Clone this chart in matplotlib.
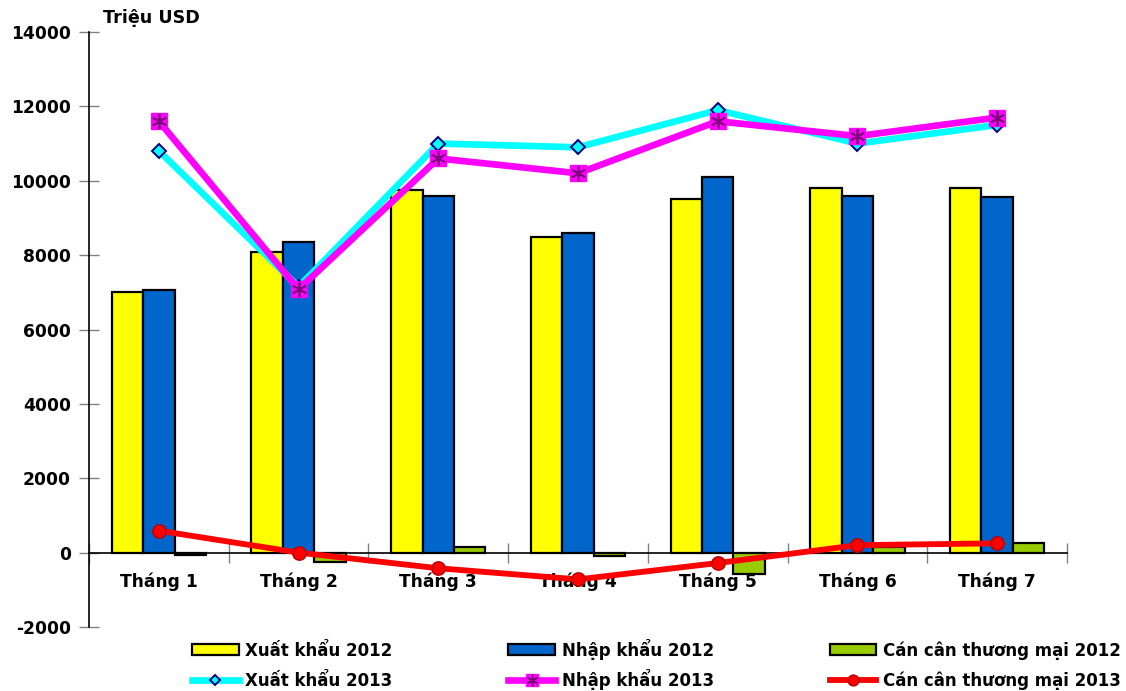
import matplotlib.pyplot as plt
import numpy as np
from matplotlib.legend_handler import HandlerTuple
from matplotlib.ticker import FixedLocator, NullFormatter

plt.rcParams['font.family'] = ['DejaVu Sans']
plt.rcParams['font.weight'] = 'bold'

# Dữ liệu (triệu USD)
thang = ['Tháng 1', 'Tháng 2', 'Tháng 3', 'Tháng 4', 'Tháng 5', 'Tháng 6', 'Tháng 7']
xuat_khau_2012 = [7000, 8080, 9750, 8500, 9500, 9800, 9800]
nhap_khau_2012 = [7070, 8350, 9600, 8600, 10100, 9600, 9560]
can_can_2012 = [-60, -250, 150, -80, -570, 140, 260]
xuat_khau_2013 = [10800, 7150, 11000, 10900, 11900, 11000, 11500]
nhap_khau_2013 = [11600, 7080, 10600, 10200, 11600, 11200, 11700]
can_can_2013 = [590, 0, -420, -720, -280, 200, 250]
yticks = [-2000, 0, 2000, 4000, 6000, 8000, 10000, 12000, 14000]

fig = plt.figure(figsize=(11.26, 6.91), dpi=100)
ax = fig.add_axes([89/1126, 1 - 627/691, (1067-89)/1126, (627-32)/691])

x = np.arange(len(thang))
w = 0.225
b1 = ax.bar(x - w, xuat_khau_2012, w, color='#FFFF00', edgecolor='black', linewidth=1.6, zorder=1.6)
b2 = ax.bar(x, nhap_khau_2012, w, color='#0066CC', edgecolor='black', linewidth=1.6, zorder=1.6)
b3 = ax.bar(x + w, can_can_2012, w, color='#99CC00', edgecolor='black', linewidth=1.6, zorder=1.6)

l1, = ax.plot(x, xuat_khau_2013, color='#00FFFF', lw=4.8, marker='D', ms=7,
              mfc='#00FFFF', mec='#000080', mew=1.4, zorder=3)
l2, = ax.plot(x, nhap_khau_2013, color='#FF00FF', lw=4.8, marker='s', ms=11,
              mfc='#FF00FF', mec='#FF00FF', zorder=3.1)
l2b, = ax.plot(x, nhap_khau_2013, ls='none', marker=(6, 2, 0), ms=11,
               mec='#800080', mew=1.3, zorder=3.2)
l3, = ax.plot(x, can_can_2013, color='#FF0000', lw=4.2, marker='o', ms=9.5,
              mfc='#FF0000', mec='#C00000', mew=1.2, zorder=3.3)

ax.set_xlim(-0.5, len(thang) - 0.5)
ax.set_ylim(-2000, 14000)
ax.set_yticks(yticks)
ax.set_yticklabels([str(v) for v in yticks], fontsize=12.3, fontweight='bold')
ax.tick_params(axis='y', direction='inout', length=14, width=1, color='#808080', pad=6)

for s in ['top', 'right']:
    ax.spines[s].set_visible(False)
ax.spines['left'].set_linewidth(1.2)
ax.spines['bottom'].set_position(('data', 0))
ax.spines['bottom'].set_linewidth(1.2)

ax.xaxis.set_major_locator(FixedLocator(np.arange(len(thang) + 1) - 0.5))
ax.xaxis.set_major_formatter(NullFormatter())
ax.xaxis.set_minor_locator(FixedLocator(x))
ax.set_xticklabels(thang, minor=True, fontsize=12.3, fontweight='bold')
ax.tick_params(axis='x', which='major', direction='inout', length=14, width=1, color='#808080')
ax.tick_params(axis='x', which='minor', length=0, pad=14)

fig.text(103/1126, 1 - 18/691, 'Triệu USD', fontsize=12.6, fontweight='bold', va='center', ha='left')

# Chú thích: hai hàng, mỗi hàng một legend để các cột thẳng hàng
rows = [
    ([b1, b2, b3], ['Xuất khẩu 2012', 'Nhập khẩu 2012', 'Cán cân thương mại 2012'], 649),
    ([l1, (l2, l2b), l3], ['Xuất khẩu 2013', 'Nhập khẩu 2013', 'Cán cân thương mại 2013'], 679),
]
for hs, lbs, ypix in rows:
    fig.legend(hs, lbs, ncol=3, loc='center left', bbox_to_anchor=(192/1126, 1 - ypix/691),
               frameon=False, handlelength=2.8, handleheight=0.6, markerscale=0.8,
               columnspacing=6.95, handletextpad=0.4, borderpad=0, borderaxespad=0,
               handler_map={tuple: HandlerTuple(ndivide=1, pad=0)},
               prop={'weight': 'bold', 'size': 12})

fig.savefig('out.png', dpi=100)
